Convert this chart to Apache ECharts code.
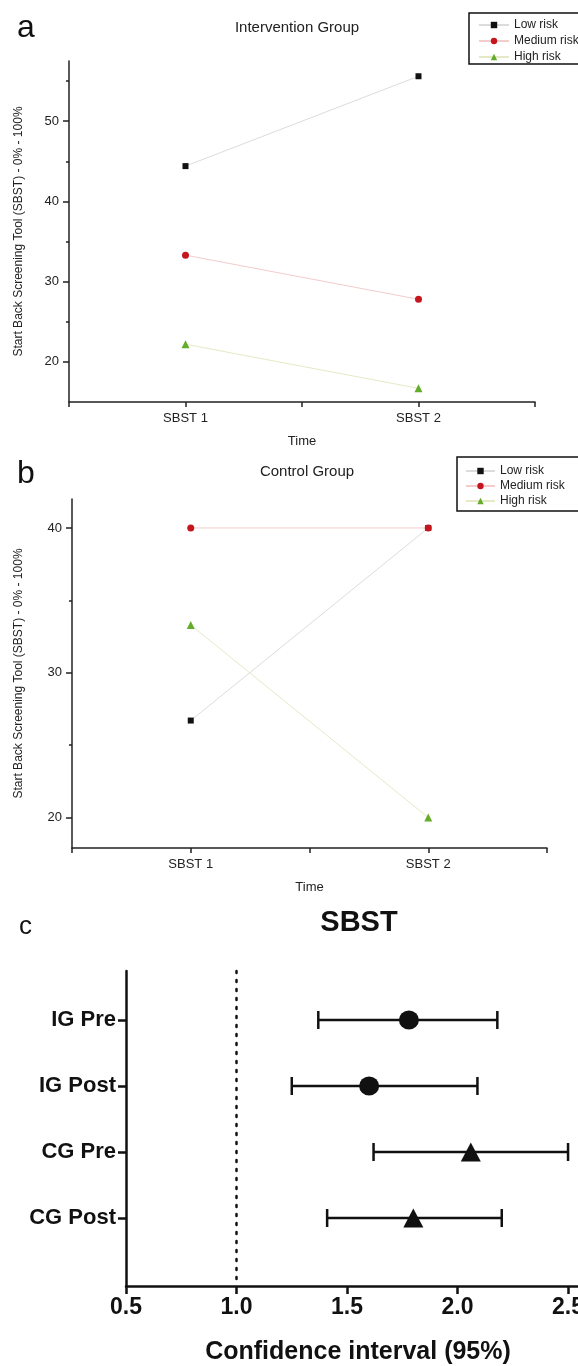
<!DOCTYPE html>
<html><head><meta charset="utf-8">
<script src="https://cdn.jsdelivr.net/npm/echarts@6/dist/echarts.min.js"></script>
<style>html,body{margin:0;padding:0;background:#fff}#c{width:578px;height:1366px}</style>
</head><body><div id="c"></div>
<script>
// ---- data ----
const timePoints = ['SBST 1', 'SBST 2'];
const riskLevels = ['Low risk', 'Medium risk', 'High risk'];
const igLow = [44.4, 55.6];
const igMedium = [33.3, 27.8];
const igHigh = [22.2, 16.7];
const cgLow = [26.7, 40.0];
const cgMedium = [40.0, 40.0];
const cgHigh = [33.3, 20.0];
const igMajorTicks = [20, 30, 40, 50];
const igMinorTicks = [25, 35, 45, 55];
const cgMajorTicks = [20, 30, 40];
const cgMinorTicks = [25, 35];
const forestGroups = ['IG Pre', 'IG Post', 'CG Pre', 'CG Post'];
const forestMean = [1.78, 1.60, 2.06, 1.80];
const forestLower = [1.37, 1.25, 1.62, 1.41];
const forestUpper = [2.18, 2.09, 2.50, 2.20];
const forestShapes = ['circle', 'circle', 'triangle', 'triangle'];
const forestTicks = [0.5, 1.0, 1.5, 2.0, 2.5];
const referenceValue = 1.0;

// ---- helpers ----
const FONT = 'Liberation Sans';
const axisCats = ['', timePoints[0], '', timePoints[1], ''];
const spread = v => [null, v[0], null, v[1], null];
const riskStyles = [
  {symbol: 'rect', size: 6, color: '#111111', line: '#dcdcdc'},
  {symbol: 'circle', size: 7, color: '#c4161c', line: '#f3cccc'},
  {symbol: 'triangle', size: 8, color: '#64ac2a', line: '#e4eac6'}
];
function lineSeries(name, vals, idx, style) {
  return {
    type: 'line', name: name, xAxisIndex: idx, yAxisIndex: idx * 2,
    data: spread(vals), connectNulls: true,
    symbol: style.symbol, symbolSize: style.size,
    itemStyle: {color: style.color},
    lineStyle: {color: style.line, width: 1},
    z: 3
  };
}
function xCat(grid) {
  return {
    type: 'category', gridIndex: grid, data: axisCats, boundaryGap: false,
    axisLine: {onZero: false, lineStyle: {color: '#222', width: 1.5}},
    axisTick: {interval: 0, length: 5, lineStyle: {color: '#222', width: 1.5}},
    axisLabel: {interval: 0, fontSize: 13, color: '#222', margin: 10},
    name: 'Time', nameLocation: 'middle', nameGap: 33,
    nameTextStyle: {fontSize: 13, color: '#222'}
  };
}
function yMajor(grid, min, max, ticks, gap) {
  return {
    type: 'value', gridIndex: grid, min: min, max: max, position: 'left',
    axisLine: {show: true, lineStyle: {color: '#222', width: 1.5}},
    axisTick: {show: true, customValues: ticks, length: 6, lineStyle: {color: '#222', width: 1.5}},
    axisLabel: {customValues: ticks, fontSize: 13, color: '#222', margin: 10},
    splitLine: {show: false},
    name: 'Start Back Screening Tool (SBST) - 0% - 100%',
    nameLocation: 'middle', nameGap: gap,
    nameTextStyle: {fontSize: 12, color: '#222'}
  };
}
function yMinor(grid, min, max, ticks) {
  return {
    type: 'value', gridIndex: grid, min: min, max: max, position: 'left', offset: 0,
    axisLine: {show: false},
    axisTick: {show: true, customValues: ticks, length: 3, lineStyle: {color: '#222', width: 1.5}},
    axisLabel: {show: false}, splitLine: {show: false}
  };
}

const series = [];
[igLow, igMedium, igHigh].forEach((v, i) => series.push(lineSeries(riskLevels[i], v, 0, riskStyles[i])));
[cgLow, cgMedium, cgHigh].forEach((v, i) => series.push(lineSeries(riskLevels[i], v, 1, riskStyles[i])));

const forestBars = forestGroups.map((g, i) => [forestLower[i], forestUpper[i], i]);
const forestPoints = forestGroups.map((g, i) => ({value: [forestMean[i], i], symbol: forestShapes[i]}));
const forestIdx = forestGroups.map((g, i) => i);

series.push({
  type: 'custom', xAxisIndex: 2, yAxisIndex: 4, data: forestBars, z: 2,
  renderItem: function (params, api) {
    const y = api.value(2);
    const p1 = api.coord([api.value(0), y]);
    const p2 = api.coord([api.value(1), y]);
    const h = 9;
    const st = {stroke: '#111', lineWidth: 2.5};
    return {type: 'group', children: [
      {type: 'line', shape: {x1: p1[0], y1: p1[1], x2: p2[0], y2: p2[1]}, style: st},
      {type: 'line', shape: {x1: p1[0], y1: p1[1] - h, x2: p1[0], y2: p1[1] + h}, style: st},
      {type: 'line', shape: {x1: p2[0], y1: p2[1] - h, x2: p2[0], y2: p2[1] + h}, style: st}
    ]};
  }
});
series.push({
  type: 'scatter', xAxisIndex: 2, yAxisIndex: 4, data: forestPoints,
  symbolSize: [20, 19], itemStyle: {color: '#111', opacity: 1}, z: 4,
  markLine: {
    silent: true, symbol: 'none', label: {show: false},
    lineStyle: {type: [2, 7], width: 2.5, color: '#111', cap: 'round'},
    data: [{xAxis: referenceValue}]
  }
});

const option = {
  animation: false,
  backgroundColor: '#fff',
  textStyle: {fontFamily: FONT},
  grid: [
    {left: 69, right: 43, top: 61, bottom: 964, outerBoundsMode: 'none'},
    {left: 72, right: 31, top: 499, bottom: 518, outerBoundsMode: 'none'},
    {left: 126, right: 0, top: 971, bottom: 80, outerBoundsMode: 'none'}
  ],
  legend: [
    {orient: 'vertical', left: 469, top: 13, data: riskLevels,
     itemWidth: 30, itemHeight: 8, itemGap: 4, padding: [6, 30, 1, 9],
     borderColor: '#111', borderWidth: 1.5,
     textStyle: {fontSize: 12, color: '#222'}},
    {orient: 'vertical', left: 457, top: 457, data: riskLevels,
     itemWidth: 29, itemHeight: 8, itemGap: 3, padding: [8, 30, 4, 8],
     borderColor: '#111', borderWidth: 1.5,
     textStyle: {fontSize: 12, color: '#222'}}
  ],
  xAxis: [
    xCat(0), xCat(1),
    {type: 'value', gridIndex: 2, min: 0.5, max: 2.545,
     axisLine: {onZero: false, lineStyle: {color: '#111', width: 2.5}},
     axisTick: {customValues: forestTicks, length: 8, lineStyle: {color: '#111', width: 2.5}},
     axisLabel: {customValues: forestTicks, formatter: v => Number(v).toFixed(1),
                 fontSize: 23, fontWeight: 'bold', color: '#111', margin: 10},
     splitLine: {show: false},
     name: 'Confidence interval (95%)', nameLocation: 'middle', nameGap: 54,
     nameTextStyle: {fontSize: 25, fontWeight: 'bold', color: '#111', padding: [0, 0, 0, 12]}}
  ],
  yAxis: [
    yMajor(0, 15, 57.5, igMajorTicks, 44), yMinor(0, 15, 57.5, igMinorTicks),
    yMajor(1, 17.9, 42, cgMajorTicks, 47), yMinor(1, 17.9, 42, cgMinorTicks),
    {type: 'value', gridIndex: 2, inverse: true, min: -0.742, max: 4.03, position: 'left',
     axisLine: {show: true, onZero: false, lineStyle: {color: '#111', width: 2.5}},
     axisTick: {show: true, customValues: forestIdx, length: 8,
                lineStyle: {color: '#111', width: 2.5}},
     axisLabel: {customValues: forestIdx, formatter: v => forestGroups[v],
                 fontSize: 22, fontWeight: 'bold', color: '#111', margin: 10},
     splitLine: {show: false}}
  ],
  graphic: [
    {type: 'text', left: 17, top: 12, style: {text: 'a', fontSize: 32, fontFamily: FONT, fill: '#111'}},
    {type: 'text', x: 297, y: 28, style: {text: 'Intervention Group', fontSize: 15, fontFamily: FONT, fill: '#222', align: 'center', verticalAlign: 'middle'}},
    {type: 'text', left: 17, top: 458, style: {text: 'b', fontSize: 32, fontFamily: FONT, fill: '#111'}},
    {type: 'text', x: 307, y: 472, style: {text: 'Control Group', fontSize: 15, fontFamily: FONT, fill: '#222', align: 'center', verticalAlign: 'middle'}},
    {type: 'text', left: 19, top: 914, style: {text: 'c', fontSize: 26, fontFamily: FONT, fill: '#111'}},
    {type: 'text', x: 359, y: 923, style: {text: 'SBST', fontSize: 29, fontWeight: 'bold', fontFamily: FONT, fill: '#111', align: 'center', verticalAlign: 'middle'}}
  ],
  series: series
};
const chart = echarts.init(document.getElementById('c'), null, {renderer: 'canvas'});
chart.setOption(option);
</script>
</body></html>
